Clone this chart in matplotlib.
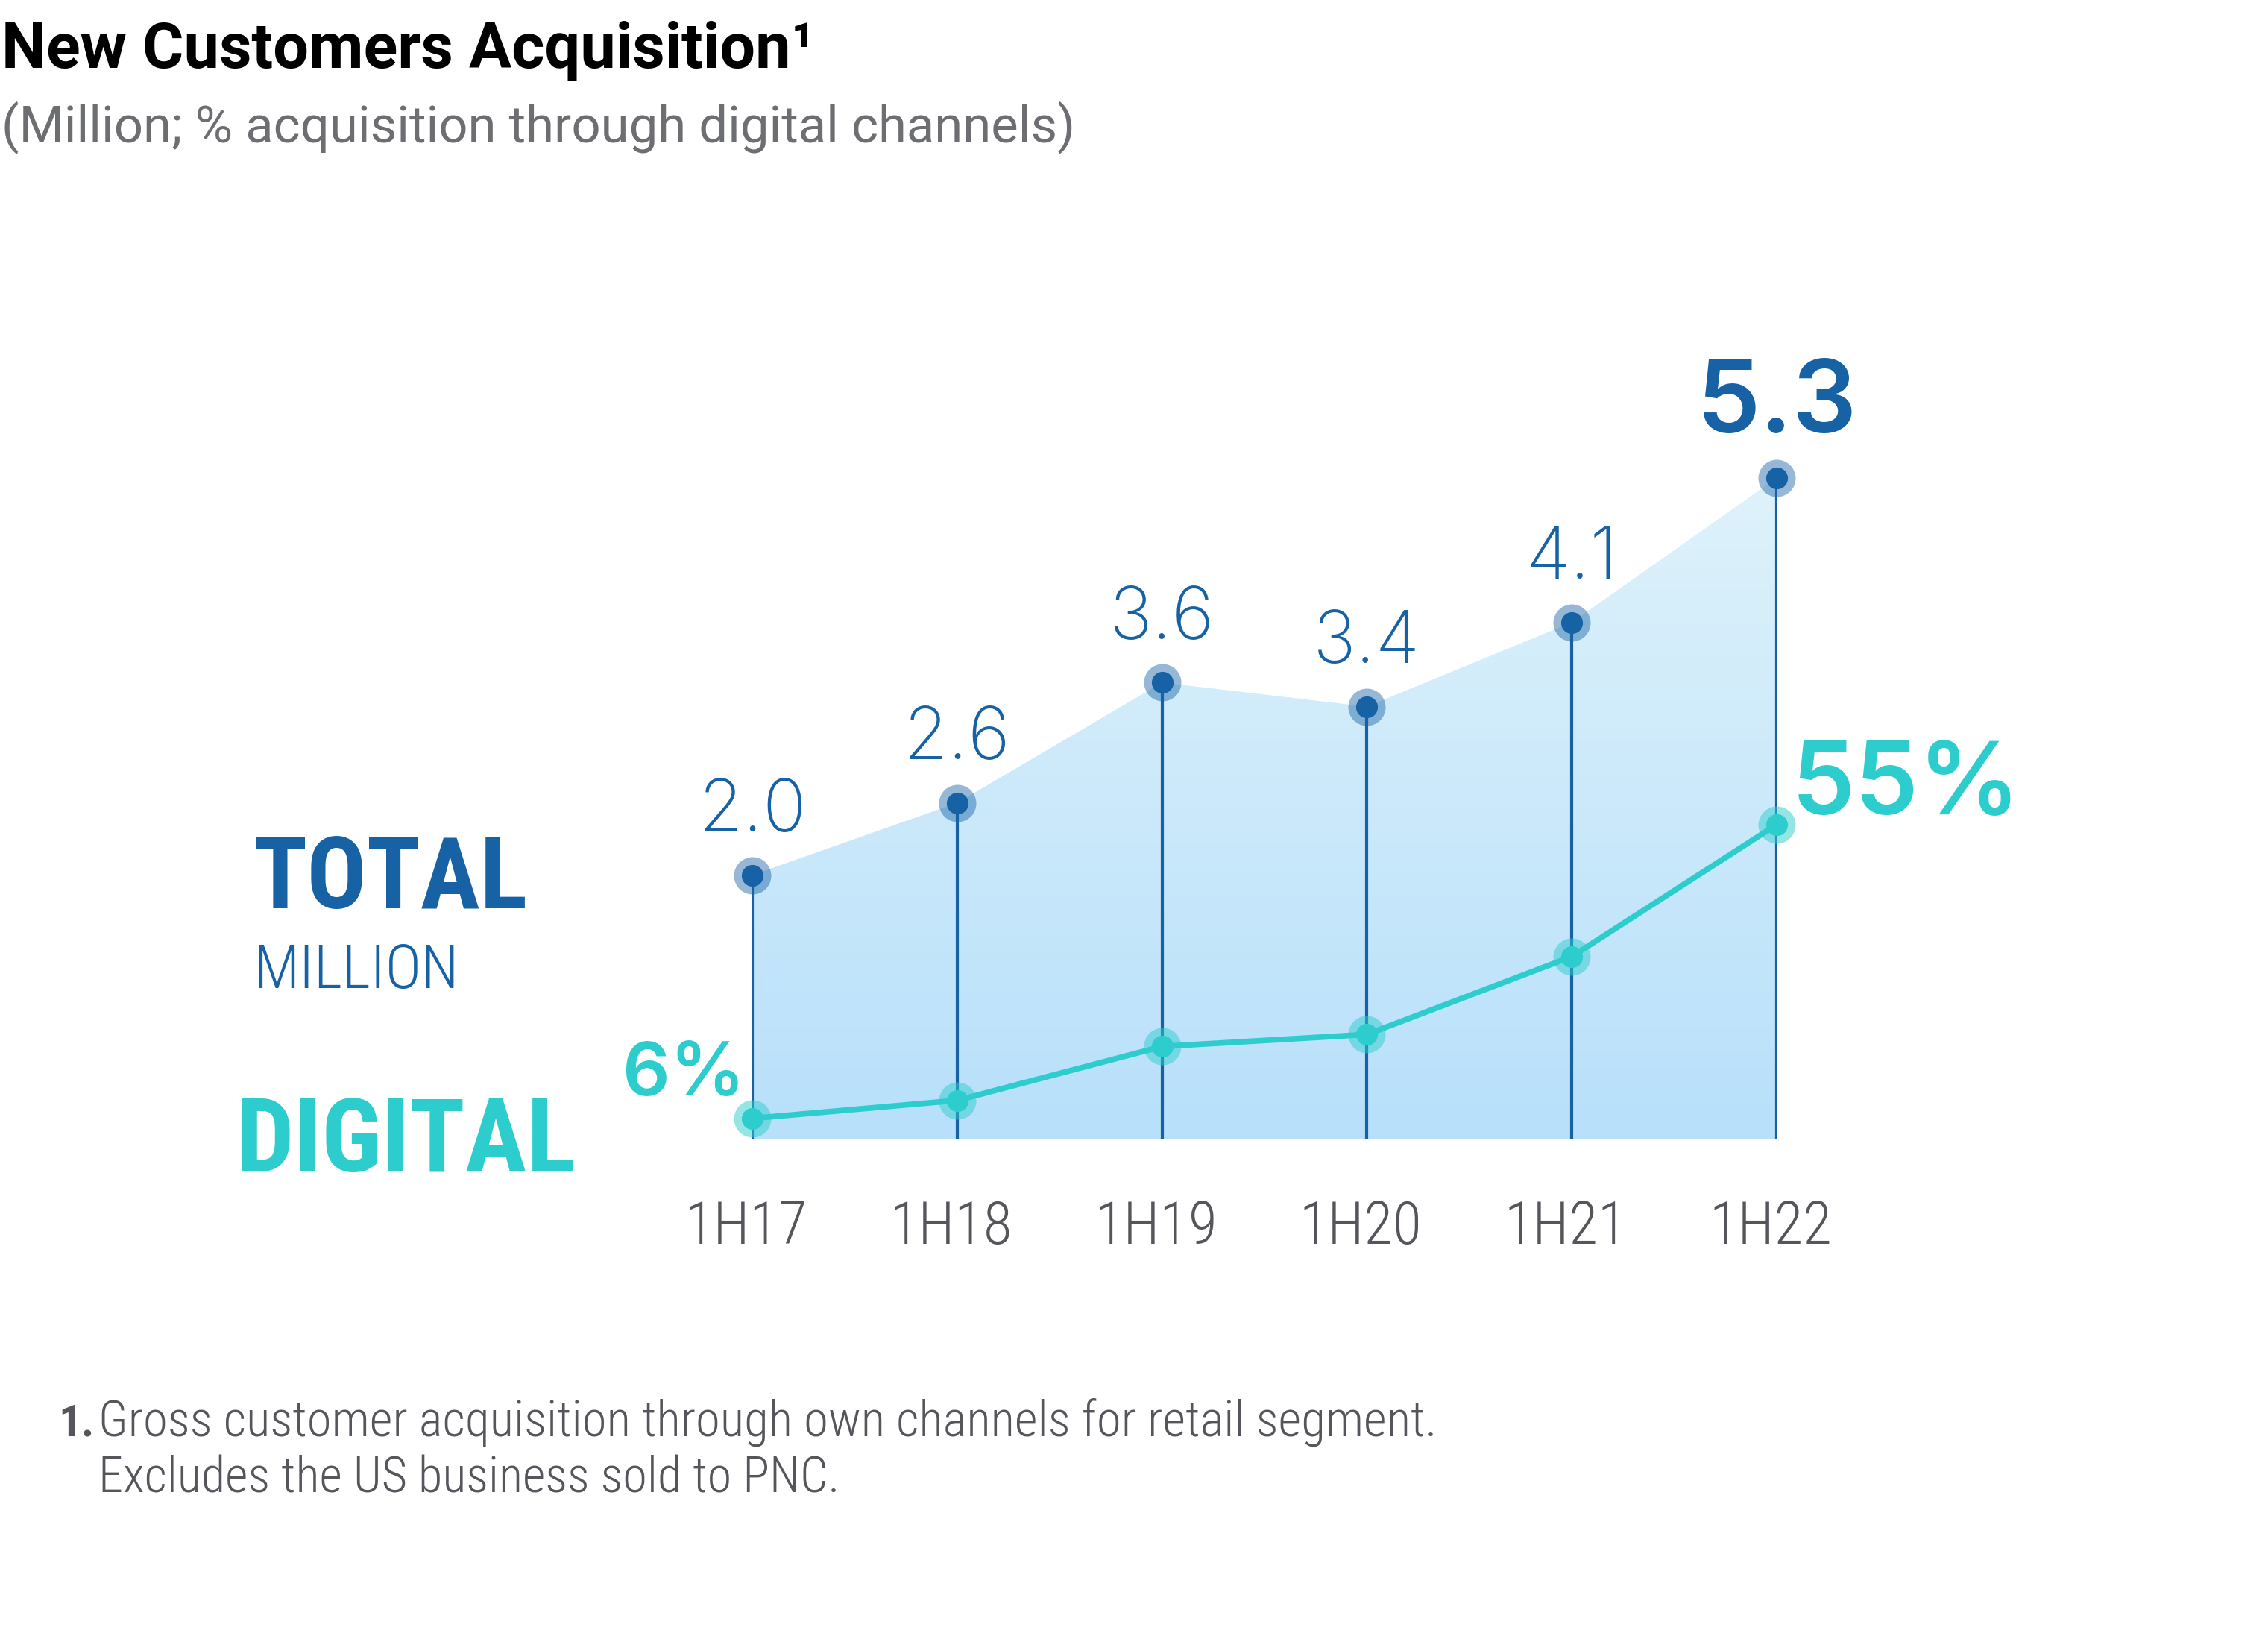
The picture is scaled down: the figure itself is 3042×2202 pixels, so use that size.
import numpy as np
import matplotlib
matplotlib.use("Agg")
import matplotlib.pyplot as plt
import matplotlib.font_manager as fm
from matplotlib.patches import Polygon
from matplotlib.transforms import blended_transform_factory

# ---- data ----
periods = ["1H17", "1H18", "1H19", "1H20", "1H21", "1H22"]
total_million = [2.0, 2.6, 3.6, 3.4, 4.1, 5.3]
total_labels = ["2.0", "2.6", "3.6", "3.4", "4.1", "5.3"]
digital_pct = [6, 9, 18, 20, 33, 55]

BLUE = "#1662A5"
TEAL = "#2ECDCD"
GREY = "#54565B"
SUBGREY = "#6D6E71"

_names = {f.name for f in fm.fontManager.ttflist}
_cond = next((n for n in ["Roboto Condensed", "Liberation Sans Narrow", "Arial Narrow",
                          "DejaVu Sans Condensed", "Open Sans Condensed", "Roboto"] if n in _names),
             "DejaVu Sans")
COND = [_cond, "DejaVu Sans"]
REG = ["Roboto", "DejaVu Sans"]
NUM = ["Inter", "DejaVu Sans"]

W, H = 3042, 2202
fig = plt.figure(figsize=(W / 100, H / 100), dpi=100)
fig.patch.set_facecolor("white")
renderer = fig.canvas.get_renderer()

def fx(px):
    return px / W

def fy(py):
    return 1 - py / H

def fit(t, target_w, grow=1.0):
    w = t.get_window_extent(renderer).width
    k = min(target_w / w, grow)
    t.set_fontsize(t.get_fontsize() * k)
    return t

# axes frame (pixel layout)
x0, x1 = 1009, 2383
base_y = 1527
top_y = base_y - 886
ax = fig.add_axes([fx(x0), fy(base_y), fx(x1 - x0), (base_y - top_y) / H])
ymin = -0.19
ax.set_xlim(0, len(periods) - 1)
ax.set_ylim(ymin, 5.3)
ax.axis("off")

x = np.arange(len(periods))

# gradient fill under total line
top_rgb = np.array([222, 242, 251]) / 255
bot_rgb = np.array([184, 224, 250]) / 255
t = np.linspace(0, 1, 256).reshape(-1, 1, 1)
grad = bot_rgb * (1 - t) + top_rgb * t
im = ax.imshow(grad, extent=[0, x[-1], ymin, max(total_million)], origin="lower",
               aspect="auto", zorder=1, interpolation="bilinear")
verts = [(0, ymin)] + list(zip(x, total_million)) + [(x[-1], ymin)]
poly = Polygon(verts, closed=True, facecolor="none", edgecolor="none", transform=ax.transData)
ax.add_patch(poly)
im.set_clip_path(poly)

# vertical stems
ax.vlines(x, ymin, total_million, color=BLUE, lw=3.0, zorder=3)

# total markers
ax.plot(x, total_million, "o", ms=36, color=BLUE, alpha=0.45, mec="none", zorder=5, clip_on=False)
ax.plot(x, total_million, "o", ms=21, color=BLUE, mec="none", zorder=6, clip_on=False)

# total labels
for i, (v, lab) in enumerate(zip(total_million, total_labels)):
    last = i == len(x) - 1
    ax.annotate(lab, (x[i], v), xytext=(0, 44 if last else 42), textcoords="offset points",
                ha="center", va="baseline", color=BLUE,
                fontsize=98 if last else 70, family=NUM,
                fontweight="semibold" if last else "light", zorder=7, annotation_clip=False)

# digital series on twin scale
ax2 = ax.twinx()
ax2.set_ylim(2.62, 2.62 + 886 / 8.04)
ax2.axis("off")
ax2.plot(x, digital_pct, "-", lw=5.5, color=TEAL, zorder=3, solid_capstyle="round")
ax2.plot(x, digital_pct, "o", ms=36, color=TEAL, alpha=0.5, mec="none", zorder=4, clip_on=False)
ax2.plot(x, digital_pct, "o", ms=21, color=TEAL, mec="none", zorder=5, clip_on=False)
ax2.annotate(f"{digital_pct[0]}%", (x[0], digital_pct[0]), xytext=(-7, 22), textcoords="offset points",
             ha="right", va="baseline", color=TEAL, fontsize=72, family=NUM,
             fontweight="semibold", annotation_clip=False)
ax2.annotate(f"{digital_pct[-1]}%", (x[-1], digital_pct[-1]), xytext=(14, 10), textcoords="offset points",
             ha="left", va="baseline", color=TEAL, fontsize=98, family=NUM,
             fontweight="semibold", annotation_clip=False)

# x category labels
tr = blended_transform_factory(ax.transData, fig.transFigure)
for i, p in enumerate(periods):
    tt = ax.text(x[i] - 0.03, fy(1668), p, transform=tr, ha="center", va="baseline",
                 fontsize=68, color=GREY, family=COND, fontweight="light")
    fit(tt, 165)

# side labels
fit(fig.text(fx(340), fy(1218), "TOTAL", fontsize=89, fontweight="bold", color=BLUE,
             family=COND, va="baseline"), 368, grow=1.08)
fit(fig.text(fx(340), fy(1325), "MILLION", fontsize=58, color=BLUE, family=COND,
             fontweight="light", va="baseline"), 275, grow=1.05)
fit(fig.text(fx(316), fy(1571), "DIGITAL", fontsize=93, fontweight="bold", color=TEAL,
             family=COND, va="baseline"), 456, grow=1.08)

# title & subtitle
fit(fig.text(fx(2), fy(91), "New Customers Acquisition\u00b9", fontsize=58, fontweight="bold",
             color="black", family=REG, va="baseline"), 1090, grow=1.1)
fit(fig.text(fx(2), fy(190), "(Million; % acquisition through digital channels)", fontsize=48,
             color=SUBGREY, family=REG, fontweight="normal", va="baseline"), 1440, grow=1.1)

# footnote
fit(fig.text(fx(78), fy(1926), "1.", fontsize=46, fontweight="bold", color=GREY,
             family=COND, va="baseline"), 48, grow=1.05)
fit(fig.text(fx(132), fy(1926), "Gross customer acquisition through own channels for retail segment.",
             fontsize=46, color=GREY, family=COND, fontweight="light", va="baseline"), 1793, grow=1.06)
fit(fig.text(fx(132), fy(2002), "Excludes the US business sold to PNC.",
             fontsize=46, color=GREY, family=COND, fontweight="light", va="baseline"), 993, grow=1.06)

fig.savefig("out.png", dpi=100, facecolor="white")
